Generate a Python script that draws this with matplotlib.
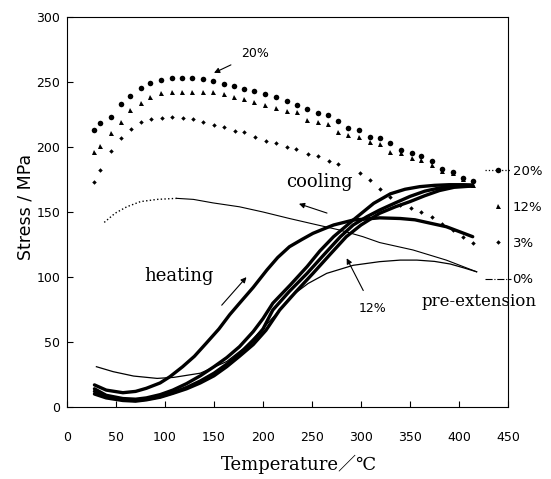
import matplotlib.pyplot as plt
from matplotlib.lines import Line2D

# cooling curves (markers), temperature in degC, stress in MPa
t_cool = [28, 34, 45, 55, 64, 75, 85, 96, 107, 117, 128, 139, 149, 160, 170, 181, 191,
          202, 213, 224, 235, 245, 256, 266, 277, 287, 298, 309, 319, 330, 341, 352,
          361, 372, 383, 394, 404, 414]
s20_cool = [213, 218.7, 223.3, 233.3, 239.5, 245.4, 249, 251.8, 253, 253, 253, 252.3, 251,
            248.5, 247, 244.6, 243.3, 240.8, 238.7, 235.4, 232, 229.5, 226, 224.4, 219.8,
            214.8, 213.3, 208, 207, 203.3, 197.7, 195.6, 193, 189.5, 182.8, 181, 176, 174]
s12_cool = [196.4, 201, 210.8, 219.5, 228.2, 233.8, 238.2, 241.5, 242.5, 242.5, 242.5, 242.5,
            242, 240.5, 238.2, 236.7, 234.8, 232.3, 230.2, 227.7, 226.7, 220.8, 219, 217.5,
            211.8, 209.2, 207.5, 203.8, 202.3, 196.5, 195, 191.3, 190, 186, 181.3, 180, 175, 171]
t3_cool = [28, 34, 45, 55, 65, 76, 86, 97, 107, 118, 129, 139, 150, 160, 171, 181, 192,
           203, 213, 224, 234, 246, 256, 267, 277, 299, 309, 319, 330, 340, 351, 361,
           372, 383, 394, 404, 414]
s3_cool = [173.3, 182, 197.2, 206.9, 213.6, 219, 221.3, 222.5, 222.8, 222.3, 221.3, 219.5,
           217, 215.4, 212.5, 211.6, 208, 204.6, 203.3, 200.2, 198.5, 194.8, 192.8, 189.5,
           187, 179.7, 174.6, 168, 161.3, 155, 153, 150, 146, 141, 136, 131, 126]

# 0% pre-extension, thin lines
t0_cool = [38, 49, 61, 75, 92, 112, 129, 149, 176, 200, 227, 250, 279, 302, 319, 353, 387, 418]
s0_cool = [142, 149, 154, 158, 159.7, 160.5, 159.7, 157, 154, 150, 145, 141, 136, 131,
           126.5, 120.8, 113, 104]
t0_heat = [30, 47, 68, 92, 109, 136, 163, 180, 197, 214, 228, 246, 265, 292, 319, 340, 357,
           375, 391, 405, 418]
s0_heat = [31, 27.2, 23.8, 22, 22.8, 26, 35, 45, 58, 72, 84.8, 95, 102.8, 109, 111.8, 113, 113,
           112, 110, 107, 104]

# heating curves (thick)
ta = [28, 40, 57, 70, 81, 95, 105, 118, 130, 142, 155, 166, 176, 190, 204, 215, 227, 240,
      251, 262, 272, 292, 319, 340, 355, 370, 387, 400, 414]
sa = [17, 13, 11, 12, 14.4, 18.5, 23.3, 31, 39, 49, 60, 71, 79.8, 92, 105.4, 115, 123.3, 129,
      133.6, 137, 140, 143.8, 145.5, 145, 144, 141.5, 138.7, 135, 131]
tb = [28, 40, 57, 70, 81, 95, 108, 122, 136, 150, 163, 176, 190, 200, 210, 228, 245, 258,
      272, 292, 313, 330, 345, 360, 375, 390, 405, 414]
sb = [14, 9, 6.5, 6, 7, 9.5, 13, 18, 24, 31, 38, 46.4, 58, 68, 79.8, 94, 108, 120, 131,
      143.8, 156.7, 164, 167.5, 169.5, 170.5, 171, 171, 170.8]
tc = [28, 40, 57, 70, 81, 95, 108, 122, 136, 150, 163, 176, 190, 200, 210, 227, 245, 262,
      279, 292, 306, 319, 335, 350, 365, 380, 395, 414]
sc = [12, 8, 5.5, 5, 6, 8, 11, 15, 20, 26, 33, 41, 51, 60, 74.6, 89, 102.8, 117, 131, 140,
      146.4, 151.5, 157, 162, 166, 168.5, 170, 170]
td = [28, 40, 57, 70, 81, 95, 108, 122, 136, 150, 163, 176, 190, 203, 217, 234, 251, 268,
      285, 300, 319, 335, 350, 365, 380, 395, 414]
sd = [10, 7, 5, 4.5, 5.5, 7.5, 10.5, 14, 18.5, 24, 31, 39, 48, 59, 74.6, 89, 102.8, 117, 131,
      140, 149, 154, 158, 162.5, 166.5, 169, 170]

legend_labels = ["20%", "12%", "3%", "0%"]

fig = plt.figure(figsize=(5.51, 4.79), dpi=100)
ax = fig.add_axes([67/551, 72/479, 441/551, 390/479])

ax.plot(t_cool, s20_cool, 'o', color='k', ms=4, mew=0)
ax.plot(t_cool, s12_cool, '^', color='k', ms=3.6, mew=0)
ax.plot(t3_cool, s3_cool, 'D', color='k', ms=2.3, mew=0)

ax.plot(t0_cool[:6], s0_cool[:6], ':', color='k', lw=1.0)
ax.plot(t0_cool[5:], s0_cool[5:], '-', color='k', lw=0.8)
ax.plot(t0_heat, s0_heat, '-', color='k', lw=0.9)

for t, s in [(ta, sa), (tb, sb), (tc, sc), (td, sd)]:
    ax.plot(t, s, '-', color='k', lw=2.4, solid_capstyle='round', solid_joinstyle='round')

ax.set_xlim(0, 450)
ax.set_ylim(0, 300)
ax.set_xticks(range(0, 451, 50))
ax.set_yticks(range(0, 301, 50))
ax.tick_params(direction='in', length=4, width=0.8, labelsize=9)
ax.tick_params(axis='x', pad=17)
ax.tick_params(axis='y', pad=5)
for sp in ax.spines.values():
    sp.set_linewidth(0.8)

serif = ['DejaVu Serif', 'Noto Sans CJK JP']
ax.set_xlabel("Temperature／℃", family=serif, fontsize=13, va='center')
ax.xaxis.set_label_coords(0.526, -0.148)
ax.set_ylabel("Stress / MPa", fontsize=12.5, va='center')
ax.yaxis.set_label_coords(-0.093, 0.513)

# annotations
ax.annotate("20%", xy=(150, 257), xytext=(192, 272), fontsize=9, ha='center', va='center',
            arrowprops=dict(arrowstyle='-|>', color='k', lw=0.8, mutation_scale=8, shrinkB=0, shrinkA=6))
ax.text(258, 173, "cooling", family=serif, fontsize=13, ha='center', va='center')
ax.annotate("", xy=(234, 157), xytext=(268, 148.5),
            arrowprops=dict(arrowstyle='-|>', color='k', lw=0.8, mutation_scale=8))
ax.text(114, 101, "heating", family=serif, fontsize=13, ha='center', va='center')
ax.annotate("", xy=(185, 101.5), xytext=(156, 76.7),
            arrowprops=dict(arrowstyle='-|>', color='k', lw=0.8, mutation_scale=8))
ax.annotate("12%", xy=(285.4, 114.4), xytext=(311.7, 75.8), fontsize=9, ha='center', va='center',
            arrowprops=dict(arrowstyle='-|>', color='k', lw=0.8, mutation_scale=8, shrinkA=7, shrinkB=0))

handles = [
    Line2D([], [], ls=':', color='k', lw=0.9, marker='o', ms=4, mew=0),
    Line2D([], [], ls='none', color='k', marker='^', ms=3.6, mew=0),
    Line2D([], [], ls='none', color='k', marker='D', ms=2.3, mew=0),
    Line2D([], [], ls='-.', color='k', lw=0.8),
]
fig.legend(handles, legend_labels, loc='upper left', bbox_to_anchor=(473/551, 1 - 153/479),
           frameon=False, fontsize=9.5, handlelength=2.0, handletextpad=0.1, labelspacing=1.75)
fig.text(479/551, 1 - 302/479, "pre-extension", family=serif, fontsize=12, ha='center', va='center')

fig.savefig("out.png", dpi=100)
